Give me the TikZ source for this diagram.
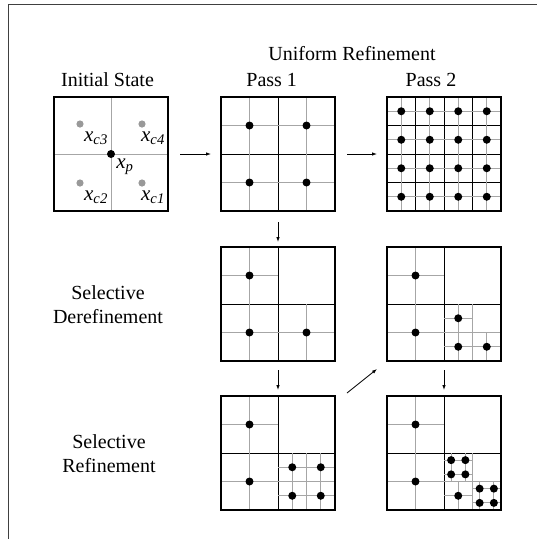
\documentclass[tikz,border=0pt]{standalone}
\usepackage{fontspec}
\setmainfont{Liberation Serif}
\usetikzlibrary{positioning,arrows.meta,backgrounds}

\tikzset{
    panel/.style={rectangle, draw, line width=1.3pt, minimum size=114pt, inner sep=0pt, outer sep=0pt},
    fine/.style={draw=black!35, line width=0.9pt},
    split/.style={draw=black, line width=0.9pt},
    title/.style={font=\fontsize{20}{24}\selectfont, anchor=base},
    rowlabel/.style={font=\fontsize{20}{24}\selectfont, align=center},
    sublabel/.style={font=\fontsize{21}{24}\selectfont\itshape, inner sep=0pt},
    flow/.style={->, line width=0.8pt}
}

% one cell: grey cross through its centre and a sample point
\newcommand{\cellat}[3]{%
    \draw[fine] (#1-#3,#2) -- (#1+#3,#2) (#1,#2-#3) -- (#1,#2+#3);
    \fill (#1,#2) circle (4pt);
}

\begin{document}
\begin{tikzpicture}[x=1pt, y=-1pt, >={Latex[length=5pt,width=3.5pt]}]
    \useasboundingbox (0,0) rectangle (537,539);
    \draw[black!75, line width=1.5pt] (8.5,539) -- (8.5,4.5) -- (537,4.5);

    % Titles
    \node[title] (uniform) at (352,60) {Uniform Refinement};
    \node[title] (tinit) at (107.5,86) {Initial State};
    \node[title] (tpass1) at (271.7,86) {Pass 1};
    \node[title] (tpass2) at (431,86) {Pass 2};
    \node[rowlabel] (lderef) at (108,305) {Selective\\Derefinement};
    \node[rowlabel] (lref) at (109,454) {Selective\\Refinement};

    % Panels
    \node[panel] (init) at (111,154) {};
    \node[panel, right=53pt of init] (pass1) {};
    \node[panel, right=52pt of pass1] (pass2) {};
    \node[panel, below=36pt of pass1] (deref1) {};
    \node[panel, below=36pt of pass2] (deref2) {};
    \node[panel, below=35pt of deref1] (ref1) {};
    \node[panel, below=35pt of deref2] (ref2) {};

    \begin{scope}[on background layer]
    % Initial state
    \begin{scope}[shift={(init.north west)}]
        \draw[fine] (0,57) -- (114,57) (57,0) -- (57,114);
        \fill[black!40] (26,27) circle (3.6pt) (88,27) circle (3.6pt)
                        (26,86) circle (3.6pt) (88,86) circle (3.6pt);
        \fill (57,57) circle (4pt);
    \end{scope}
    % Pass 1
    \begin{scope}[shift={(pass1.north west)}]
        \draw[split] (0,57) -- (114,57) (57,0) -- (57,114);
        \foreach \cx in {28.5,85.5}
            \foreach \cy in {28.5,85.5} {\cellat{\cx}{\cy}{28.5}}
    \end{scope}
    % Pass 2
    \begin{scope}[shift={(pass2.north west)}]
        \foreach \k in {28.5,57,85.5}
            \draw[split] (0,\k) -- (114,\k) (\k,0) -- (\k,114);
        \foreach \cx in {14.25,42.75,71.25,99.75}
            \foreach \cy in {14.25,42.75,71.25,99.75} {\cellat{\cx}{\cy}{14.25}}
    \end{scope}
    % Derefinement after pass 1
    \begin{scope}[shift={(deref1.north west)}]
        \draw[split] (0,57) -- (114,57) (57,0) -- (57,114);
        \cellat{28.5}{28.5}{28.5}
        \cellat{28.5}{85.5}{28.5}
        \cellat{85.5}{85.5}{28.5}
    \end{scope}
    % Derefinement after pass 2
    \begin{scope}[shift={(deref2.north west)}]
        \draw[split] (0,57) -- (114,57) (57,0) -- (57,114);
        \cellat{28.5}{28.5}{28.5}
        \cellat{28.5}{85.5}{28.5}
        \draw[fine] (85.5,57) -- (85.5,114) (57,85.5) -- (114,85.5);
        \cellat{71.25}{71.25}{14.25}
        \cellat{71.25}{99.75}{14.25}
        \cellat{99.75}{99.75}{14.25}
    \end{scope}
    % Refinement after pass 1
    \begin{scope}[shift={(ref1.north west)}]
        \draw[split] (0,57) -- (114,57) (57,0) -- (57,114);
        \cellat{28.5}{28.5}{28.5}
        \cellat{28.5}{85.5}{28.5}
        \draw[fine] (85.5,57) -- (85.5,114) (57,85.5) -- (114,85.5);
        \foreach \cx in {71.25,99.75}
            \foreach \cy in {71.25,99.75} {\cellat{\cx}{\cy}{14.25}}
    \end{scope}
    % Refinement after pass 2
    \begin{scope}[shift={(ref2.north west)}]
        \draw[split] (0,57) -- (114,57) (57,0) -- (57,114);
        \cellat{28.5}{28.5}{28.5}
        \cellat{28.5}{85.5}{28.5}
        \draw[fine] (85.5,57) -- (85.5,114) (57,85.5) -- (114,85.5);
        \cellat{71.25}{99.75}{14.25}
        \foreach \cx in {64.125,78.375}
            \foreach \cy in {64.125,78.375} {\cellat{\cx}{\cy}{7.125}}
        \foreach \cx in {92.625,106.875}
            \foreach \cy in {92.625,106.875} {\cellat{\cx}{\cy}{7.125}}
    \end{scope}
    \end{scope}

    % Point labels
    \begin{scope}[shift={(init.north west)}]
        \node[sublabel] (xc3) at (42,41) {x\textsubscript{c3}};
        \node[sublabel] (xc4) at (99,41) {x\textsubscript{c4}};
        \node[sublabel] (xc2) at (42,100) {x\textsubscript{c2}};
        \node[sublabel] (xc1) at (99,100) {x\textsubscript{c1}};
        \node[sublabel] (xp) at (71,70) {x\textsubscript{p}};
    \end{scope}

    % Arrows
    \draw[flow, shorten <=12pt, shorten >=10pt] (init) -- (pass1);
    \draw[flow, shorten <=12pt, shorten >=10pt] (pass1) -- (pass2);
    \draw[flow, shorten <=11pt, shorten >=5pt] (pass1) -- (deref1);
    \draw[flow, shorten <=9pt, shorten >=6pt] (deref1) -- (ref1);
    \draw[flow, shorten <=9pt, shorten >=6pt] (deref2) -- (ref2);
    \draw[flow] ([xshift=12pt,yshift=3pt]ref1.north east) -- ([xshift=-10pt,yshift=-8pt]deref2.south west);
\end{tikzpicture}
\end{document}
